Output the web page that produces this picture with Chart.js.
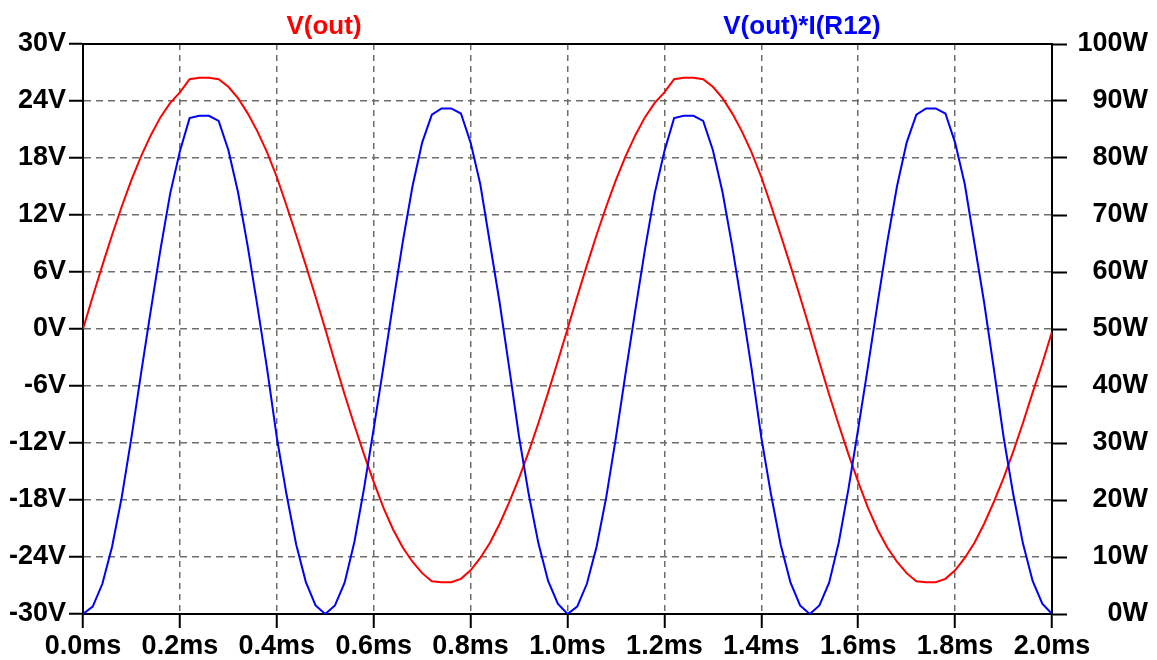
<!DOCTYPE html>
<html>
<head>
<meta charset="utf-8">
<title>V(out) and V(out)*I(R12)</title>
<script src="https://cdn.jsdelivr.net/npm/chart.js@4.4.1/dist/chart.umd.min.js"></script>
<style>
  html, body { margin: 0; padding: 0; background: #fff; }
  #wrap { position: relative; width: 1157px; height: 660px; }
  #plot { position: absolute; left: 0; top: 0; }
  .trace {
    position: absolute;
    top: 12px;
    font: bold 26px/26px 'Liberation Sans', Arial, sans-serif;
    transform: translateX(-50%);
    white-space: nowrap;
  }
</style>
</head>
<body>
<div id="wrap">
  <canvas id="plot" width="1157" height="660"></canvas>
</div>
<script>
// Transient run, 0 to 2 ms: output voltage (left axis) and power in R12 (right axis)

const timeMs = [
  0.00, 0.02, 0.04, 0.06, 0.08, 0.10, 0.12, 0.14, 0.16, 0.18,
  0.20, 0.22, 0.24, 0.26, 0.28, 0.30, 0.32, 0.34, 0.36, 0.38,
  0.40, 0.42, 0.44, 0.46, 0.48, 0.50, 0.52, 0.54, 0.56, 0.58,
  0.60, 0.62, 0.64, 0.66, 0.68, 0.70, 0.72, 0.74, 0.76, 0.78,
  0.80, 0.82, 0.84, 0.86, 0.88, 0.90, 0.92, 0.94, 0.96, 0.98,
  1.00, 1.02, 1.04, 1.06, 1.08, 1.10, 1.12, 1.14, 1.16, 1.18,
  1.20, 1.22, 1.24, 1.26, 1.28, 1.30, 1.32, 1.34, 1.36, 1.38,
  1.40, 1.42, 1.44, 1.46, 1.48, 1.50, 1.52, 1.54, 1.56, 1.58,
  1.60, 1.62, 1.64, 1.66, 1.68, 1.70, 1.72, 1.74, 1.76, 1.78,
  1.80, 1.82, 1.84, 1.86, 1.88, 1.90, 1.92, 1.94, 1.96, 1.98,
  2.00
];

// V(out) in volts
const vOut = [
  0, 3.4, 6.7, 9.9, 12.9, 15.7, 18.2, 20.4, 22.3, 23.8,
  24.9, 26.3, 26.45, 26.45, 26.3, 25.5, 24.3, 22.7, 20.8, 18.6,
  16.0, 13.0, 9.9, 6.7, 3.4, 0, -3.5, -6.9, -10.1, -13.2,
  -16.1, -18.8, -21.1, -23.0, -24.5, -25.7, -26.55, -26.66, -26.66, -26.3,
  -25.4, -24.1, -22.5, -20.5, -18.2, -15.7, -12.9, -9.9, -6.7, -3.4,
  0, 3.4, 6.7, 9.9, 12.9, 15.7, 18.2, 20.4, 22.3, 23.8,
  24.9, 26.3, 26.45, 26.45, 26.3, 25.5, 24.3, 22.7, 20.8, 18.6,
  16.0, 13.0, 9.9, 6.7, 3.4, 0, -3.5, -6.9, -10.1, -13.2,
  -16.1, -18.8, -21.1, -23.0, -24.5, -25.7, -26.55, -26.66, -26.66, -26.3,
  -25.4, -24.1, -22.5, -20.5, -18.2, -15.7, -12.9, -9.9, -6.7, -3.6,
  -0.3
];

// V(out)*I(R12) in watts
const pOut = [
  0, 1.3, 5.3, 11.8, 20.5, 31.0, 42.3, 53.3, 64.0, 73.8,
  81.2, 87.0, 87.4, 87.4, 86.5, 81.4, 74.0, 64.5, 54.0, 43.0,
  31.0, 21.0, 12.2, 5.6, 1.5, 0, 1.5, 5.5, 12.6, 22.0,
  32.5, 43.3, 54.5, 65.3, 75.0, 82.7, 87.6, 88.7, 88.7, 87.8,
  82.7, 75.4, 65.0, 54.6, 43.0, 31.1, 21.0, 12.4, 5.8, 1.8,
  0, 1.3, 5.3, 11.8, 20.5, 31.0, 42.3, 53.3, 64.0, 73.8,
  81.2, 87.0, 87.4, 87.4, 86.5, 81.4, 74.0, 64.5, 54.0, 43.0,
  31.0, 21.0, 12.2, 5.6, 1.5, 0, 1.5, 5.5, 12.6, 22.0,
  32.5, 43.3, 54.5, 65.3, 75.0, 82.7, 87.6, 88.7, 88.7, 87.8,
  82.7, 75.4, 65.0, 54.6, 43.0, 31.1, 21.0, 12.4, 5.8, 1.8,
  0
];

const seriesNames = ['V(out)', 'V(out)*I(R12)'];
const seriesColors = ['#ff0000', '#0000ff'];
const seriesNameX = [324, 802];

const xTickLabels = ['0.0ms', '0.2ms', '0.4ms', '0.6ms', '0.8ms', '1.0ms', '1.2ms', '1.4ms', '1.6ms', '1.8ms', '2.0ms'];
const vTickLabels = ['-30V', '-24V', '-18V', '-12V', '-6V', '0V', '6V', '12V', '18V', '24V', '30V'];
const pTickLabels = ['0W', '10W', '20W', '30W', '40W', '50W', '60W', '70W', '80W', '90W', '100W'];

const tickFont = { family: "'Liberation Sans', Arial, sans-serif", size: 27, weight: 'bold' };
const gridColor = '#6e6e66';

// grid line at the frame edges is hidden, the solid frame sits there
function innerGrid(ctx) {
    const last = ctx.scale.ticks.length - 1;
    return (ctx.index === 0 || ctx.index === last) ? 'rgba(0,0,0,0)' : gridColor;
}

function toPoints(values) {
    return values.map((v, i) => ({ x: timeMs[i], y: v }));
}

// trace names above the plot
seriesNames.forEach((name, i) => {
    const el = document.createElement('div');
    el.className = 'trace';
    el.style.left = seriesNameX[i] + 'px';
    el.style.color = seriesColors[i];
    el.textContent = name;
    document.getElementById('wrap').appendChild(el);
});

new Chart(document.getElementById('plot'), {
    type: 'line',
    data: {
        datasets: [
            {
                label: seriesNames[0],
                data: toPoints(vOut),
                borderColor: seriesColors[0],
                borderWidth: 2,
                xAxisID: 'x',
                yAxisID: 'y',
                order: 1
            },
            {
                label: seriesNames[1],
                data: toPoints(pOut),
                borderColor: seriesColors[1],
                borderWidth: 2,
                xAxisID: 'x',
                yAxisID: 'y1',
                order: 0
            }
        ]
    },
    options: {
        responsive: false,
        animation: false,
        events: [],
        layout: { padding: { top: 44, left: 0, right: 9, bottom: 0 } },
        elements: {
            point: { radius: 0 },
            line: { tension: 0 }
        },
        plugins: {
            legend: { display: false },
            tooltip: { enabled: false }
        },
        scales: {
            x: {
                type: 'linear',
                position: 'bottom',
                min: 0,
                max: 2,
                afterFit: scale => { scale.height = 46; },
                ticks: {
                    stepSize: 0.2,
                    autoSkip: false,
                    maxRotation: 0,
                    padding: 2,
                    color: '#000',
                    font: tickFont,
                    callback: (v, i) => xTickLabels[i]
                },
                grid: {
                    color: innerGrid,
                    lineWidth: 1.5,
                    tickColor: '#000',
                    tickWidth: 2,
                    tickLength: 14
                },
                border: { display: true, color: '#000', width: 2, dash: [6, 5] }
            },
            xTop: {
                type: 'linear',
                position: 'top',
                min: 0,
                max: 2,
                afterFit: scale => { scale.height = 0; },
                ticks: { display: false },
                grid: { display: false, drawTicks: false },
                border: { display: true, color: '#000', width: 2 }
            },
            y: {
                type: 'linear',
                position: 'left',
                min: -30,
                max: 30,
                afterFit: scale => { scale.width = 83; },
                ticks: {
                    stepSize: 6,
                    padding: 3,
                    color: '#000',
                    font: tickFont,
                    callback: (v, i) => vTickLabels[i]
                },
                grid: {
                    color: innerGrid,
                    lineWidth: 1.5,
                    tickColor: '#000',
                    tickWidth: 2,
                    tickLength: 14
                },
                border: { display: true, color: '#000', width: 2, dash: [7, 5] }
            },
            y1: {
                type: 'linear',
                position: 'right',
                min: 0,
                max: 100,
                afterFit: scale => { scale.width = 96; },
                ticks: {
                    stepSize: 10,
                    padding: 8,
                    crossAlign: 'far',
                    color: '#000',
                    font: tickFont,
                    callback: (v, i) => pTickLabels[i]
                },
                grid: {
                    drawOnChartArea: false,
                    tickColor: '#000',
                    tickWidth: 2,
                    tickLength: 15
                },
                border: { display: true, color: '#000', width: 2 }
            }
        }
    }
});
</script>
</body>
</html>
